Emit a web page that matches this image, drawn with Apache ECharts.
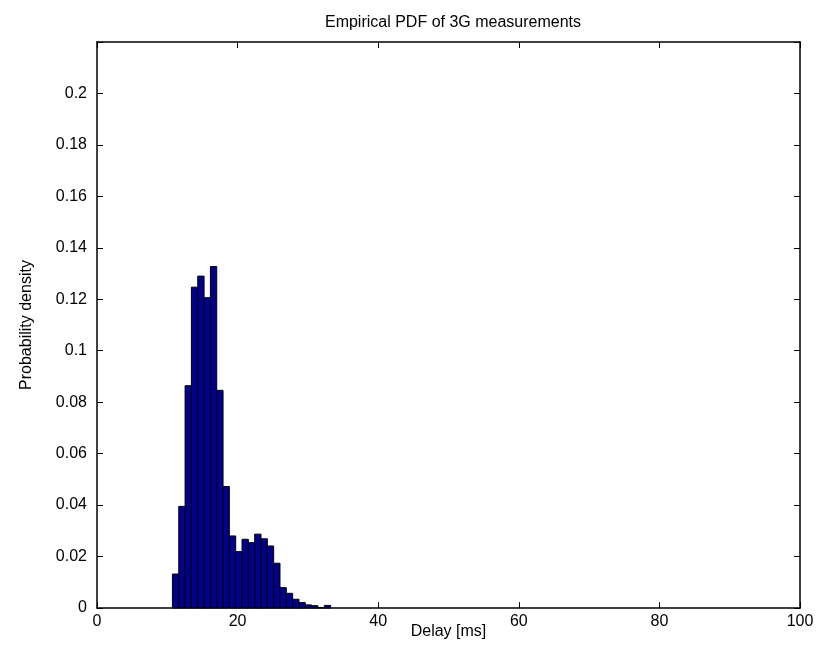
<!DOCTYPE html>
<html>
<head>
<meta charset="utf-8">
<script src="https://cdn.jsdelivr.net/npm/echarts@6/dist/echarts.min.js"></script>
<style>
html, body { margin: 0; padding: 0; background: #fff; }
#chart { width: 834px; height: 666px; }
</style>
</head>
<body>
<div id="chart"></div>
<script>
// histogram bins (centre of each bin, ms) and the empirical density
var binCenters = [11.18, 12.08, 12.98, 13.88, 14.78, 15.68, 16.58, 17.48, 18.38, 19.28,
                  20.18, 21.08, 21.98, 22.88, 23.78, 24.68, 25.58, 26.48, 27.38, 28.28,
                  29.18, 30.08, 30.98, 31.88, 32.78];
var binWidth = 0.9;
var density = [0.0132, 0.0395, 0.0864, 0.1247, 0.129, 0.1206, 0.1327, 0.0846, 0.0472, 0.028,
               0.0219, 0.0267, 0.0254, 0.0287, 0.0269, 0.0241, 0.0174, 0.0079, 0.0057, 0.0034,
               0.0021, 0.0012, 0.0009, 0.0002, 0.0010];
var xTicks = [0, 20, 40, 60, 80, 100];

var histData = binCenters.map(function (c, i) {
    return [c - binWidth / 2, c + binWidth / 2, density[i]];
});

var font = 'Liberation Sans, Arial, sans-serif';
var labelStyle = { color: '#000', fontSize: 16, fontFamily: font };
var frameLine = { onZero: false, lineStyle: { color: '#000', width: 1.5 } };
var frameTick = { inside: true, length: 6, lineStyle: { color: '#000' } };

var chart = echarts.init(document.getElementById('chart'));
chart.setOption({
    animation: false,
    title: {
        text: 'Empirical PDF of 3G measurements',
        left: 448, top: 10, textAlign: 'center',
        textStyle: { color: '#000', fontSize: 16, fontWeight: 'normal', fontFamily: font }
    },
    grid: { left: 97, right: 34, top: 42, bottom: 58 },
    xAxis: [{
        type: 'value', min: xTicks[0], max: xTicks[xTicks.length - 1], interval: 20,
        name: 'Delay [ms]', nameLocation: 'middle', nameGap: 16, nameMoveOverlap: false,
        nameTextStyle: { color: '#000', fontSize: 16, fontFamily: font },
        axisLine: frameLine, axisTick: frameTick,
        axisLabel: Object.assign({ margin: 6 }, labelStyle),
        splitLine: { show: false }
    }, {
        type: 'value', min: xTicks[0], max: xTicks[xTicks.length - 1], interval: 20, position: 'top',
        axisLine: frameLine, axisTick: frameTick,
        axisLabel: { show: false }, splitLine: { show: false }
    }],
    yAxis: [{
        type: 'value', min: 0, max: 0.22, interval: 0.02,
        name: 'Probability density', nameLocation: 'middle', nameGap: 62, nameMoveOverlap: false,
        nameTextStyle: { color: '#000', fontSize: 16, fontFamily: font },
        axisLine: frameLine, axisTick: frameTick,
        axisLabel: Object.assign({
            margin: 10,
            formatter: function (v) { return v > 0.21 ? '' : String(+v.toFixed(2)); }
        }, labelStyle),
        splitLine: { show: false }
    }, {
        type: 'value', min: 0, max: 0.22, interval: 0.02, position: 'right',
        axisLine: frameLine, axisTick: frameTick,
        axisLabel: { show: false }, splitLine: { show: false }
    }],
    series: [{
        type: 'custom',
        xAxisIndex: 0, yAxisIndex: 0,
        data: histData,
        encode: { x: [0, 1], y: 2 },
        renderItem: function (params, api) {
            var p0 = api.coord([api.value(0), api.value(2)]);
            var p1 = api.coord([api.value(1), 0]);
            return {
                type: 'rect',
                shape: { x: p0[0], y: p0[1], width: p1[0] - p0[0], height: p1[1] - p0[1] },
                style: { fill: '#00008c', stroke: '#000', lineWidth: 1 }
            };
        }
    }]
});
</script>
</body>
</html>
